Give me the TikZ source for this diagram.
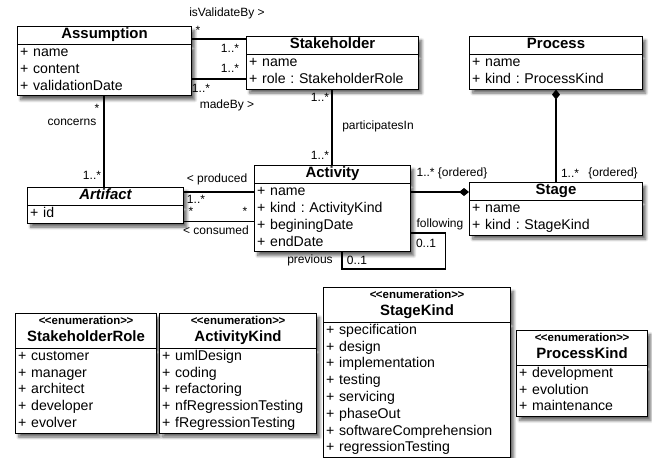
\documentclass[tikz,border=0pt]{standalone}
\usepackage{fontspec}
\setmainfont{Liberation Sans}
\usetikzlibrary{shapes.multipart,arrows.meta,calc,shadows.blur}
\frenchspacing

\newcommand{\clsname}[1]{\hbox to\hsize{\hfil\fontsize{11.2}{12.6}\selectfont\bfseries\strut #1\hfil}}
\newcommand{\enumhead}[1]{\baselineskip=11pt
    \hbox to\hsize{\hfil\fontsize{8.6}{9}\selectfont\bfseries\rule{0pt}{8pt}<\kern-.4pt<enumeration>\kern-.4pt>\hfil}
    \hbox to\hsize{\hfil\fontsize{11.2}{12.6}\selectfont\bfseries #1\rule[-4.5pt]{0pt}{4.5pt}\hfil}}

\begin{document}
\begin{tikzpicture}[
            x=0.75pt, y=-0.75pt,
            every node/.style={font=\fontsize{9}{11}\selectfont},
            cls/.style={rectangle split, rectangle split parts=2, draw=black, line width=0.8pt, fill=white,
                anchor=north west, inner xsep=2pt, inner ysep=0pt, align=left, text width=#1,
                font=\fontsize{10.6}{12.6}\selectfont,
                blur shadow={shadow xshift=2.4pt, shadow yshift=-3pt, shadow blur steps=8, shadow opacity=60}},
            lbl/.style={inner sep=0pt},
            link/.style={draw=black, line width=0.8pt},
            comp/.style={link, -{Diamond[length=7.5pt,width=6pt]}},
        ]
        \useasboundingbox (0,0) rectangle (652,457);

        % Define classes
        \node[cls=126.5pt] (Assumption) at (17,26) {\clsname{Assumption}
            \nodepart{two}\strut + name\\+ content\\+ validationDate\strut};
        \node[cls=125pt] (Stakeholder) at (246,36) {\clsname{Stakeholder}
            \nodepart{two}\strut + name\\+ role : StakeholderRole\strut};
        \node[cls=125.75pt] (Process) at (469,36) {\clsname{Process}
            \nodepart{two}\strut + name\\+ kind : ProcessKind\strut};
        \node[cls=113pt] (Activity) at (254,165) {\clsname{Activity}
            \nodepart{two}\strut + name\\+ kind : ActivityKind\\+ beginingDate\\+ endDate\strut};
        \node[cls=113pt] (Artifact) at (27,187) {\clsname{\itshape Artifact}
            \nodepart{two}\strut + id\strut};
        \node[cls=125.75pt] (Stage) at (469,182) {\clsname{Stage}
            \nodepart{two}\strut + name\\+ kind : StageKind\strut};

        % Define enumerations
        \node[cls=101.75pt] (StakeholderRole) at (15,313) {\enumhead{StakeholderRole}
            \nodepart{two}\strut + customer\\+ manager\\+ architect\\+ developer\\+ evolver\strut};
        \node[cls=113.75pt] (ActivityKind) at (159,313) {\enumhead{ActivityKind}
            \nodepart{two}\strut + umlDesign\\+ coding\\+ refactoring\\+ nfRegressionTesting\\+ fRegressionTesting\strut};
        \node[cls=136.25pt] (StageKind) at (323,287) {\enumhead{StageKind}
            \nodepart{two}\strut + specification\\+ design\\+ implementation\\+ testing\\+ servicing\\+ phaseOut\\+ softwareComprehension\\+ regressionTesting\strut};
        \node[cls=94.25pt] (ProcessKind) at (516,330) {\enumhead{ProcessKind}
            \nodepart{two}\strut + development\\+ evolution\\+ maintenance\strut};

        % Draw connections
        \draw[link] ($(Assumption.north east)+(0,13)$) coordinate (val) -- (val -| Stakeholder.west);
        \draw[link] ($(Assumption.north east)+(0,53)$) coordinate (made) -- (made -| Stakeholder.west);
        \draw[link] ($(Assumption.south west)+(87,0)$) coordinate (conc) -- (conc |- Artifact.north);
        \draw[link] ($(Stakeholder.south west)+(86,0)$) coordinate (part) -- (part |- Activity.north);
        \draw[link] ($(Artifact.north east)+(0,5)$) coordinate (prod) -- (prod -| Activity.west);
        \draw[link] ($(Artifact.south east)+(0,-2)$) coordinate (cons) -- (cons -| Activity.west);
        \draw[comp] ($(Activity.north east)+(0,27)$) coordinate (act) -- (act -| Stage.west);
        \draw[comp] ($(Stage.north west)+(87,0)$) coordinate (stg) -- (stg |- Process.south);
        \draw[link] ($(Activity.north east)+(0,68)$) -- ++(34,0) -- ++(0,36) -| ($(Activity.south west)+(88,0)$);

        % Draw association labels
        \node[lbl] (lValid) at (227,13) {isValidateBy >};
        \node[lbl] (mValidA) at (198,30) {*};
        \node[lbl] (mValidS) at (230,48) {1..*};
        \node[lbl] (mMadeS) at (230,68) {1..*};
        \node[lbl] (mMadeA) at (201,88) {1..*};
        \node[lbl] (lMade) at (227,105) {madeBy >};
        \node[lbl] (mConcA) at (97,108) {*};
        \node[lbl] (lConc) at (72,122) {concerns};
        \node[lbl] (mConcR) at (92,175) {1..*};
        \node[lbl] (mPartS) at (320,97) {1..*};
        \node[lbl] (lPart) at (378,126) {participatesIn};
        \node[lbl] (mPartA) at (320,155) {1..*};
        \node[lbl] (lProd) at (217,179) {< produced};
        \node[lbl] (mProdR) at (196,199) {1..*};
        \node[lbl] (mConsR) at (191,211) {*};
        \node[lbl] (mConsA) at (245,211) {*};
        \node[lbl] (lCons) at (216,230) {< consumed};
        \node[lbl] (mActS) at (452,173) {1..* \{ordered\}};
        \node[lbl] (mStgP) at (570,173) {1..*};
        \node[lbl] (oStgP) at (613,173) {\{ordered\}};
        \node[lbl] (lFoll) at (440,224) {following};
        \node[lbl] (mFoll) at (426,243) {0..1};
        \node[lbl] (lPrev) at (310,260) {previous};
        \node[lbl] (mPrev) at (357,260) {0..1};

\end{tikzpicture}
\end{document}
